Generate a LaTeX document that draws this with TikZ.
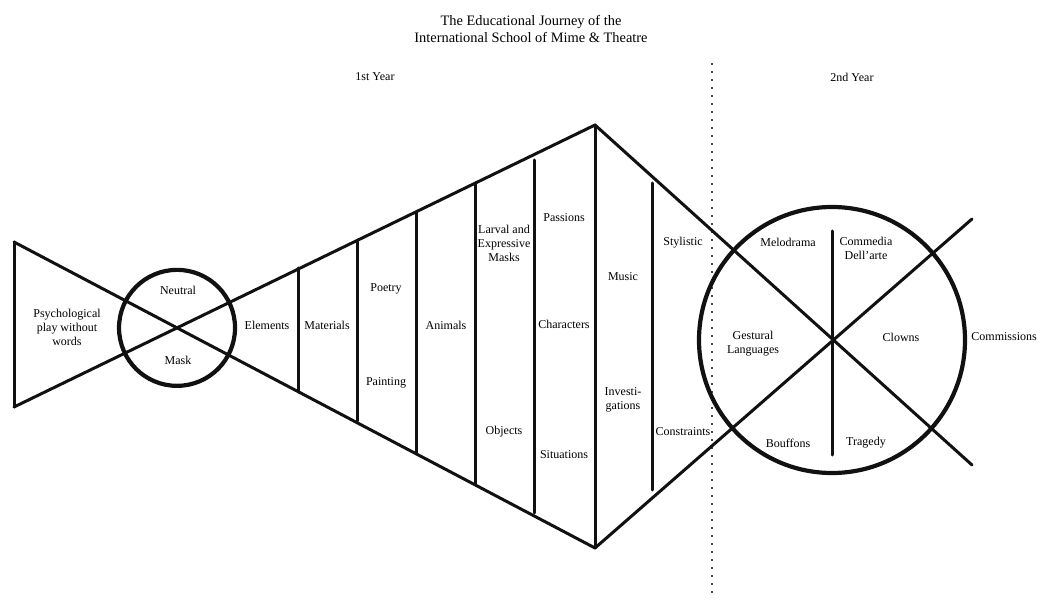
\documentclass[tikz,border=0pt]{standalone}
\usepackage{fontspec}
\setmainfont{Liberation Serif}
\usepackage{xcolor}
\definecolor{inkblack}{HTML}{111111}
\definecolor{dotgray}{HTML}{444444}
\usepackage{tikz}

\begin{document}
\begin{tikzpicture}[x=1pt,y=-1pt,font=\fontsize{12}{14}\selectfont,line cap=round,line join=round]
  \useasboundingbox (0,0) rectangle (1038,601);
  % corner points of the journey outline
  \coordinate (ltop) at (14,242);
  \coordinate (lbot) at (14,407);
  \coordinate (wtop) at (595,125);
  \coordinate (wbot) at (595,548);
  \coordinate (hub) at (832,340);
  \coordinate (xup) at (972,219);
  \coordinate (xdown) at (972,465);
  \coordinate (cross) at (intersection of ltop--wbot and lbot--wtop);
  % title and years
  \node[align=center,font=\fontsize{14.4}{17}\selectfont] (title) at (531,29)
    {The Educational Journey of the\\International School of Mime \& Theatre};
  \node (year1) at (375,77) {1st Year};
  \node (year2) at (852,77) {2nd Year};
  % year boundary
  \draw[dotgray,line width=1.8pt,line cap=butt,dash pattern=on 1.8pt off 6.2pt] (712,63) -- (712,598);
  % outline
  \draw[inkblack,line width=3pt] (ltop) -- (lbot);
  \draw[inkblack,line width=3pt] (ltop) -- (wbot) -- (xup);
  \draw[inkblack,line width=3pt] (lbot) -- (wtop) -- (xdown);
  \draw[inkblack,line width=3pt] (wtop) -- (wbot);
  % dividers of the wedge
  \foreach \x/\ya/\yb in {298/268/392, 357/241/421, 416/212/453, 475/183/485, 534/160/513, 652/183/490}
    \draw[inkblack,line width=3pt] (\x,\ya) -- (\x,\yb);
  % circles
  \draw[inkblack,line width=4.2pt] (cross) circle[radius=58];
  \draw[inkblack,line width=4.2pt] (hub) circle[radius=133];
  \draw[inkblack,line width=3pt] (832,231) -- (832,455);
  % first year labels
  \node[align=center] (psych) at (67,327) {Psychological\\play without\\words};
  \node (neutral) at (178,290) {Neutral};
  \node (mask) at (178,360) {Mask};
  \node (elements) at (267,325) {Elements};
  \node (materials) at (327,325) {Materials};
  \node (poetry) at (386,289) {Poetry};
  \node (painting) at (386,383) {Painting};
  \node (animals) at (446,325) {Animals};
  \node[align=center] (larval) at (504,243) {Larval and\\Expressive\\Masks};
  \node (objects) at (504,432) {Objects};
  \node (passions) at (564,218) {Passions};
  \node (characters) at (564,324) {Characters};
  \node (situations) at (564,455) {Situations};
  \node (music) at (623,277) {Music};
  \node[align=center] (invest) at (623,400) {Investi-\\gations};
  \node (stylistic) at (683,243) {Stylistic};
  \node (constraints) at (683,432) {Constraints};
  % second year labels
  \node (melodrama) at (788,242) {Melodrama};
  \node[align=center] (commedia) at (866,248) {Commedia\\Dell'arte};
  \node[align=center] (gestural) at (753,344) {Gestural\\Languages};
  \node (clowns) at (901,337) {Clowns};
  \node (bouffons) at (788,443) {Bouffons};
  \node (tragedy) at (866,443) {Tragedy};
  \node[anchor=east,inner sep=0pt] (commissions) at (1037,337) {Commissions};
\end{tikzpicture}
\end{document}
